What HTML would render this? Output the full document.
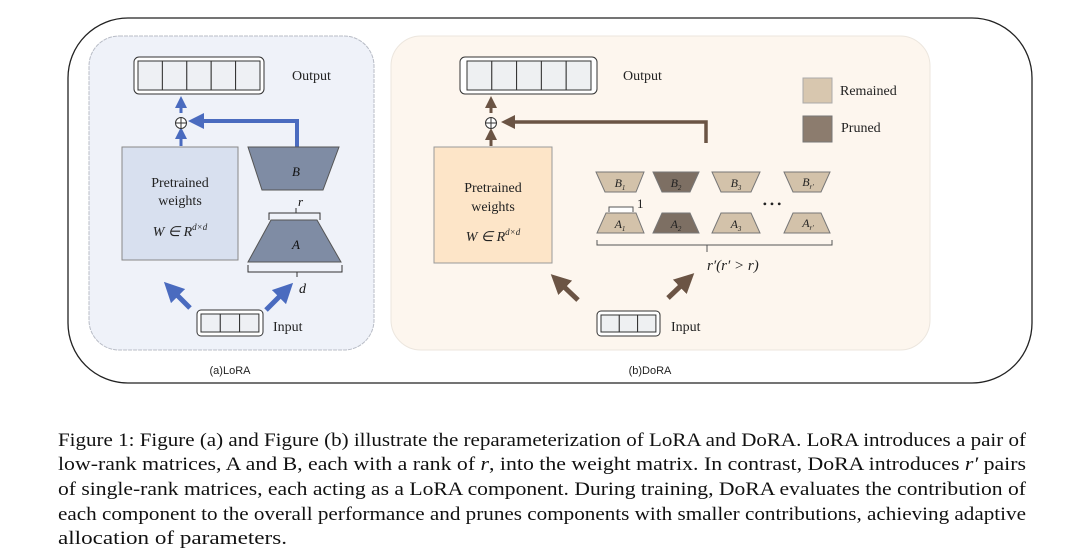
<!DOCTYPE html>
<html><head><meta charset="utf-8"><style>
html,body{margin:0;padding:0;background:#fff;width:1080px;height:557px;overflow:hidden}
</style></head><body>
<svg width="1080" height="557" viewBox="0 0 1080 557" xmlns="http://www.w3.org/2000/svg">
<defs>
<marker id="ab" markerWidth="4" markerHeight="4" refX="2" refY="2" orient="auto" markerUnits="strokeWidth"><path d="M0,0 L4,2 L0,4 z" fill="#4a6bbf"/></marker>
<marker id="ad" markerWidth="4" markerHeight="4" refX="2" refY="2" orient="auto" markerUnits="strokeWidth"><path d="M0,0 L4,2 L0,4 z" fill="#6b5444"/></marker>
</defs>
<rect x="68" y="18" width="964" height="365" rx="60" fill="#fff" stroke="#222" stroke-width="1.3"/>
<!-- LoRA panel -->
<rect x="89" y="36" width="285" height="314" rx="30" fill="#eff2f9" stroke="#b8bcc6" stroke-width="1" stroke-dasharray="4 1"/>
<rect x="134" y="57" width="130" height="37" rx="5" fill="#fff" stroke="#333" stroke-width="1"/>
<g fill="#eef0f4" stroke="#333" stroke-width="1">
<rect x="138" y="61" width="24.4" height="29"/><rect x="162.4" y="61" width="24.4" height="29"/><rect x="186.8" y="61" width="24.4" height="29"/><rect x="211.2" y="61" width="24.4" height="29"/><rect x="235.6" y="61" width="24.4" height="29"/>
</g>
<text x="292" y="80" font-family="Liberation Serif,serif" font-size="14" fill="#222">Output</text>
<line x1="181" y1="113" x2="181" y2="102" stroke="#4a6bbf" stroke-width="3" marker-end="url(#ab)"/>
<line x1="181" y1="146" x2="181" y2="133" stroke="#4a6bbf" stroke-width="3" marker-end="url(#ab)"/>
<circle cx="181" cy="123" r="5.5" fill="#fff" stroke="#333"/><path d="M175.5 123h11M181 117.5v11" stroke="#333"/>
<path d="M297 147 V121 H196" fill="none" stroke="#4a6bbf" stroke-width="4" marker-end="url(#ab)"/>
<rect x="122" y="147" width="116" height="113" fill="#d8e0ef" stroke="#888"/>
<g font-family="Liberation Serif,serif" font-size="14" fill="#222" text-anchor="middle">
<text x="180" y="187">Pretrained</text><text x="180" y="205">weights</text>
<text x="180" y="236" font-style="italic">W ∈ R<tspan font-size="9" dy="-6">d×d</tspan></text>
</g>
<path d="M248 147 H339 L323 190 H262 Z" fill="#7f8ca4" stroke="#555"/>
<text x="296" y="176" font-family="Liberation Serif,serif" font-style="italic" font-size="13" text-anchor="middle" fill="#111">B</text>
<path d="M269 220 V213 H320 V220 M296 213 V208" fill="none" stroke="#333"/>
<text x="298" y="206" font-family="Liberation Serif,serif" font-style="italic" font-size="13" fill="#111">r</text>
<path d="M271 220 H317 L341 262 H248 Z" fill="#7f8ca4" stroke="#555"/>
<text x="296" y="249" font-family="Liberation Serif,serif" font-style="italic" font-size="13" text-anchor="middle" fill="#111">A</text>
<path d="M248 265 V272 H342 V265 M297 272 V277" fill="none" stroke="#333"/>
<text x="299" y="293" font-family="Liberation Serif,serif" font-style="italic" font-size="14" fill="#111">d</text>
<line x1="190" y1="308" x2="171" y2="289" stroke="#4a6bbf" stroke-width="5" marker-end="url(#ab)"/>
<line x1="266" y1="310" x2="286" y2="290" stroke="#4a6bbf" stroke-width="5" marker-end="url(#ab)"/>
<rect x="197" y="310" width="66" height="26" rx="4" fill="#fff" stroke="#333"/>
<g fill="#eef0f4" stroke="#333"><rect x="201" y="314" width="19.3" height="18"/><rect x="220.3" y="314" width="19.3" height="18"/><rect x="239.6" y="314" width="19.3" height="18"/></g>
<text x="273" y="331" font-family="Liberation Serif,serif" font-size="14" fill="#222">Input</text>
<text x="230" y="374" font-family="Liberation Sans,sans-serif" font-size="11" text-anchor="middle" fill="#222">(a)LoRA</text>
<!-- DoRA panel -->
<rect x="391" y="36" width="539" height="314" rx="30" fill="#fdf6ee" stroke="#ece6de"/>
<rect x="460" y="57" width="137" height="37" rx="5" fill="#fff" stroke="#333"/>
<g fill="#eef0f2" stroke="#333"><rect x="467" y="61" width="24.8" height="29"/><rect x="491.8" y="61" width="24.8" height="29"/><rect x="516.6" y="61" width="24.8" height="29"/><rect x="541.4" y="61" width="24.8" height="29"/><rect x="566.2" y="61" width="24.8" height="29"/></g>
<text x="623" y="80" font-family="Liberation Serif,serif" font-size="14" fill="#222">Output</text>
<rect x="803" y="78" width="29" height="25" fill="#d8c7af" stroke="#aaa"/>
<rect x="803" y="116" width="29" height="26" fill="#8c7c6e" stroke="#777"/>
<text x="840" y="95" font-family="Liberation Serif,serif" font-size="14" fill="#222">Remained</text>
<text x="841" y="132" font-family="Liberation Serif,serif" font-size="14" fill="#222">Pruned</text>
<line x1="491" y1="113" x2="491" y2="102" stroke="#6b5444" stroke-width="3" marker-end="url(#ad)"/>
<line x1="491" y1="146" x2="491" y2="134" stroke="#6b5444" stroke-width="3" marker-end="url(#ad)"/>
<circle cx="491" cy="123" r="5.5" fill="#fff" stroke="#333"/><path d="M485.5 123h11M491 117.5v11" stroke="#333"/>
<path d="M706 143 V122 H508" fill="none" stroke="#6b5444" stroke-width="3.5" marker-end="url(#ad)"/>
<rect x="434" y="147" width="118" height="116" fill="#fde5c8" stroke="#999"/>
<g font-family="Liberation Serif,serif" font-size="14" fill="#222" text-anchor="middle">
<text x="493" y="192">Pretrained</text><text x="493" y="211">weights</text>
<text x="493" y="241" font-style="italic">W ∈ R<tspan font-size="9" dy="-6">d×d</tspan></text>
</g>
<g stroke="#777" stroke-width="1">
<path d="M596 172 H644 L636 192 H605 Z" fill="#d3c2aa"/>
<path d="M653 172 H699 L690 192 H662 Z" fill="#7d6f63"/>
<path d="M712 172 H760 L751 192 H721 Z" fill="#d3c2aa"/>
<path d="M784 172 H830 L821 192 H793 Z" fill="#d3c2aa"/>
<path d="M606 213 H636 L644 233 H597 Z" fill="#d3c2aa"/>
<path d="M662 213 H690 L699 233 H653 Z" fill="#7d6f63"/>
<path d="M721 213 H751 L760 233 H712 Z" fill="#d3c2aa"/>
<path d="M793 213 H821 L830 233 H784 Z" fill="#d3c2aa"/>
</g>
<g font-family="Liberation Serif,serif" font-style="italic" font-size="12" fill="#222" text-anchor="middle">
<text x="620" y="187">B<tspan font-size="7" dy="3">1</tspan></text>
<text x="676" y="187">B<tspan font-size="7" dy="3">2</tspan></text>
<text x="736" y="187">B<tspan font-size="7" dy="3">3</tspan></text>
<text x="808" y="186">B<tspan font-size="7" dy="3">r′</tspan></text>
<text x="620" y="228">A<tspan font-size="7" dy="3">1</tspan></text>
<text x="676" y="228">A<tspan font-size="7" dy="3">2</tspan></text>
<text x="736" y="228">A<tspan font-size="7" dy="3">3</tspan></text>
<text x="808" y="227">A<tspan font-size="7" dy="3">r′</tspan></text>
</g>
<path d="M609 212 V207 H633 V212" fill="#fff" stroke="#555"/>
<text x="637" y="208" font-family="Liberation Serif,serif" font-size="13" fill="#222">1</text>
<text x="772" y="208" font-family="Liberation Serif,serif" font-size="12" text-anchor="middle" fill="#222">• • •</text>
<path d="M597 240 V245 H832 V240 M707 245 V252" fill="none" stroke="#555"/>
<text x="707" y="270" font-family="Liberation Serif,serif" font-style="italic" font-size="15" fill="#222">r′(r′ &gt; r)</text>
<line x1="578" y1="300" x2="558" y2="281" stroke="#6b5444" stroke-width="5" marker-end="url(#ad)"/>
<line x1="668" y1="298" x2="687" y2="280" stroke="#6b5444" stroke-width="5" marker-end="url(#ad)"/>
<rect x="597" y="311" width="63" height="25" rx="4" fill="#fff" stroke="#333"/>
<g fill="#eef0f2" stroke="#333"><rect x="601" y="315" width="18.3" height="17"/><rect x="619.3" y="315" width="18.3" height="17"/><rect x="637.6" y="315" width="18.3" height="17"/></g>
<text x="671" y="331" font-family="Liberation Serif,serif" font-size="14" fill="#222">Input</text>
<text x="650" y="374" font-family="Liberation Sans,sans-serif" font-size="11" text-anchor="middle" fill="#222">(b)DoRA</text>
<!-- caption -->
<g font-family="Liberation Serif,serif" font-size="19" fill="#111">
<text x="58" y="446" textLength="968" lengthAdjust="spacingAndGlyphs">Figure 1: Figure (a) and Figure (b) illustrate the reparameterization of LoRA and DoRA. LoRA introduces a pair of</text>
<text x="58" y="470" textLength="968" lengthAdjust="spacingAndGlyphs">low-rank matrices, A and B, each with a rank of <tspan font-style="italic">r</tspan>, into the weight matrix. In contrast, DoRA introduces <tspan font-style="italic">r′</tspan> pairs</text>
<text x="58" y="495" textLength="968" lengthAdjust="spacingAndGlyphs">of single-rank matrices, each acting as a LoRA component. During training, DoRA evaluates the contribution of</text>
<text x="58" y="520" textLength="968" lengthAdjust="spacingAndGlyphs">each component to the overall performance and prunes components with smaller contributions, achieving adaptive</text>
<text x="58" y="544" textLength="229" lengthAdjust="spacingAndGlyphs">allocation of parameters.</text>
</g>
</svg>
</body></html>
